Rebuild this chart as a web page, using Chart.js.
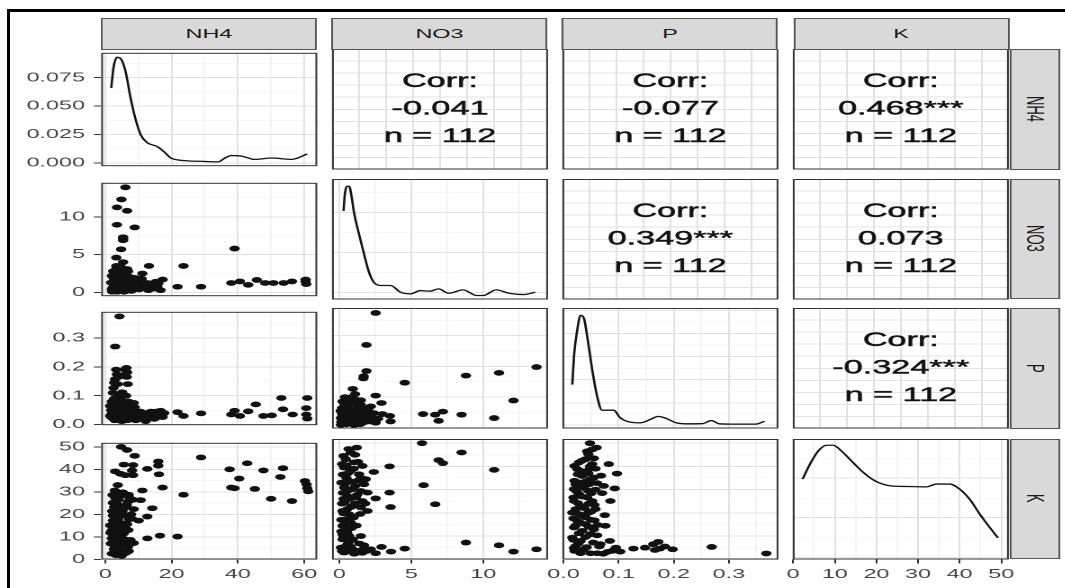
<!DOCTYPE html>
<html>
<head>
<meta charset="utf-8">
<title>NH4 / NO3 / P / K pairs</title>
<script src="https://cdn.jsdelivr.net/npm/chart.js@4.4.1/dist/chart.umd.min.js"></script>
<style>
  html, body { margin: 0; padding: 0; background: #fff; }
  body { width: 1065px; height: 588px; overflow: hidden; position: relative; }
  #frame { position: absolute; left: 7px; top: 9px; width: 1080px; height: 600px;
           border-left: 3px solid #000; border-top: 3px solid #000; }
  /* 元の図は横方向に引き伸ばされているので、全体を scaleX で伸ばす */
  #stage { position: absolute; left: 0; top: 0; width: 592px; height: 588px;
           transform: scaleX(1.8); transform-origin: 0 0; }
  #stage canvas { position: absolute; }
  .strip { position: absolute; box-sizing: border-box; background: #d9d9d9;
           border: 1px solid #555; color: #1a1a1a;
           font: 13px "Liberation Sans", Arial, sans-serif;
           display: flex; align-items: center; justify-content: center; }
  .strip.right span { writing-mode: vertical-rl; }
</style>
</head>
<body>
<div id="frame"></div>
<div id="stage"></div>
<script>
// ---- 変数名・相関 ----
const variables = ['NH4', 'NO3', 'P', 'K'];
const corrCells = [[0, 1], [0, 2], [0, 3], [1, 2], [1, 3], [2, 3]];
const corrValues = ['-0.041', '-0.077', '0.468***', '0.349***', '0.073', '-0.324***'];
const corrN = 112;

// ---- 軸の目盛り ----
const nh4Range = [-1.2, 63.9];
const nh4Ticks = [0, 20, 40, 60];
const nh4Minor = [10, 30, 50];
const nh4Labels = ['0', '20', '40', '60'];

const no3Range = [-0.5, 14.5];
const no3Ticks = [0, 5, 10];
const no3Minor = [2.5, 7.5, 12.5];
const no3Labels = ['0', '5', '10'];

const pRange = [-0.002, 0.39];
const pTicks = [0, 0.1, 0.2, 0.3];
const pMinor = [0.05, 0.15, 0.25, 0.35];
const pLabels = ['0.0', '0.1', '0.2', '0.3'];

const kRange = [-0.1, 51.8];
const kTicks = [0, 10, 20, 30, 40, 50];
const kMinor = [5, 15, 25, 35, 45];
const kLabels = ['0', '10', '20', '30', '40', '50'];

const densRange = [-0.003, 0.097];
const densTicks = [0, 0.025, 0.05, 0.075];
const densMinor = [0.0125, 0.0375, 0.0625, 0.0875];
const densLabels = ['0.000', '0.025', '0.050', '0.075'];

// 対角パネル (NO3, P, K) の密度は相対値 0..1 で読んだ
const relRange = [0, 1];
const no3DensGrid = [0.06, 0.226, 0.392, 0.558, 0.724, 0.89];
const pDensGrid = [0.027, 0.124, 0.212, 0.308, 0.405, 0.5, 0.598, 0.694, 0.79, 0.887, 0.98];
const kDensGrid = [0.017, 0.182, 0.347, 0.512, 0.677, 0.842];

const corrRangeX = [0, 8];
const corrGridX = [1, 2, 3, 4, 5, 6, 7];
const corrRangeY = [0, 10];
const corrGridY = [1, 2, 3, 4, 5, 6, 7, 8, 9];

// ---- 密度曲線 ----
const nh4Density = [[1.83, 0.066], [2.5, 0.0837], [3.55, 0.093], [4.6, 0.092], [6.1, 0.081], [7.6, 0.058],
  [9.1, 0.039], [10.7, 0.0247], [12.7, 0.0177], [15.7, 0.0143], [17.7, 0.0098], [19.8, 0.0042],
  [22, 0.0025], [24.9, 0.0017], [30, 0.0012], [34, 0.0008], [36, 0.004], [38, 0.0064], [41.1, 0.0059],
  [45.1, 0.003], [50.2, 0.0042], [56.3, 0.003], [60.9, 0.0078]];
const no3Density = [[0.3, 0.735], [0.39, 0.873], [0.53, 0.94], [0.69, 0.94], [0.85, 0.86], [1.03, 0.72],
  [1.38, 0.54], [1.72, 0.378], [2.07, 0.226], [2.4, 0.143], [2.87, 0.116], [3.57, 0.116], [4.26, 0.06],
  [4.94, 0.047], [5.63, 0.074], [6.3, 0.069], [6.9, 0.088], [7.6, 0.052], [8.6, 0.08], [9.55, 0.033],
  [10, 0.033], [10.9, 0.08], [11.8, 0.052], [12.8, 0.041], [13.6, 0.06]];
const pDensity = [[0.016, 0.364], [0.019, 0.6], [0.025, 0.82], [0.031, 0.94], [0.037, 0.915], [0.044, 0.735],
  [0.052, 0.49], [0.061, 0.267], [0.07, 0.152], [0.091, 0.152], [0.103, 0.088], [0.115, 0.06],
  [0.139, 0.047], [0.157, 0.074], [0.172, 0.1], [0.184, 0.088], [0.205, 0.047], [0.229, 0.039],
  [0.253, 0.041], [0.268, 0.066], [0.283, 0.039], [0.313, 0.036], [0.348, 0.036], [0.365, 0.06]];
const kDensity = [[2.25, 0.667], [4, 0.79], [6, 0.9], [8, 0.948], [9.6, 0.948], [11.6, 0.9], [14, 0.818],
  [16.4, 0.736], [18.4, 0.68], [20.4, 0.64], [23.6, 0.61], [27.2, 0.606], [32, 0.603], [34.4, 0.626],
  [37.6, 0.626], [40, 0.584], [42.4, 0.5], [44.8, 0.378], [47.2, 0.267], [49.2, 0.18]];

// ---- 散布図 (重なって見えない点は塊の範囲から推定) ----
const nh4No3 = [[6.1, 13.9], [4.9, 12.3], [3.55, 11.25], [6.6, 10.8], [3.55, 8.95], [8.9, 8.6], [5.4, 7.3],
  [5.4, 6.9], [5.4, 7.1], [4.8, 5.7], [3.35, 4.6], [3.35, 3.5], [6.6, 3.1], [13.2, 3.5], [23.6, 3.5],
  [11.2, 2.5], [9.1, 1.9], [17.3, 1.7], [21.8, 0.75], [28.9, 0.75], [39, 5.8], [38, 1.25], [40.6, 1.45],
  [43.1, 1.0], [45.7, 1.65], [48.2, 1.25], [50.7, 1.25], [53.8, 1.25], [56.3, 1.45], [60.4, 1.45],
  [60.6, 1.1], [60.4, 1.7], [2.0, 0.4], [3.0, 0.8], [4.1, 1.25], [2.5, 1.9], [3.6, 2.3], [4.6, 2.7],
  [5.6, 2.1], [6.1, 0.8], [7.1, 0.4], [8.1, 1.0], [9.6, 0.6], [11.7, 0.6], [13.7, 0.8], [15.7, 0.8],
  [16.7, 0.3], [4.6, 0.2], [3.0, 0.2], [7.6, 1.7], [5.1, 1.45], [2.5, 1.25], [4.1, 1.9], [5.6, 3.1],
  [6.6, 1.9], [10.7, 1.0], [12.7, 1.25], [15.2, 1.4], [3.8, 0.5], [5.0, 0.6], [6.0, 1.2], [2.8, 1.6],
  [7.5, 0.9], [4.4, 1.6], [2.2, 0.6], [2.6, 1.0], [3.2, 1.4], [3.9, 0.9], [4.3, 0.4], [4.8, 1.1],
  [5.3, 0.5], [5.8, 1.6], [6.3, 2.4], [6.8, 1.3], [7.3, 0.7], [7.8, 2.0], [8.5, 1.4], [9.3, 0.9],
  [2.0, 2.2], [2.4, 2.8], [3.1, 3.0], [3.7, 1.8], [4.2, 2.5], [4.9, 2.0], [5.2, 0.9], [5.9, 0.3],
  [6.4, 0.6], [6.9, 2.8], [7.9, 0.2], [8.8, 0.5], [10.2, 0.4], [12.2, 0.9], [14.5, 0.5], [3.4, 0.5],
  [2.9, 1.1], [4.7, 3.4], [5.4, 4.0], [1.8, 1.3], [2.1, 0.1], [3.6, 0.1], [5.7, 0.1], [9.8, 1.5],
  [11.0, 1.8], [13.0, 0.3], [16.0, 1.2]];
const nh4P = [[4.3, 0.374], [3.0, 0.27], [6.4, 0.196], [6.6, 0.181], [3.55, 0.174], [3.0, 0.157],
  [2.5, 0.127], [4.0, 0.103], [3.0, 0.086], [8.6, 0.075], [1.5, 0.065], [2.0, 0.037], [3.5, 0.026],
  [5.1, 0.048], [6.6, 0.043], [8.1, 0.053], [9.6, 0.037], [11.2, 0.032], [12.7, 0.021], [14.2, 0.037],
  [15.7, 0.026], [16.7, 0.048], [17.3, 0.026], [2.5, 0.02], [4.6, 0.021], [6.1, 0.026], [1.5, 0.03],
  [5.1, 0.07], [7.6, 0.032], [21.8, 0.043], [23.6, 0.03], [28.9, 0.039], [38, 0.035], [39, 0.048],
  [40.6, 0.03], [43.1, 0.046], [45.4, 0.07], [47.7, 0.03], [50.2, 0.032], [53.1, 0.092], [53.6, 0.053],
  [56.5, 0.035], [60.9, 0.092], [60.6, 0.057], [60.6, 0.035], [60.9, 0.021], [2.8, 0.05], [4.0, 0.06],
  [5.8, 0.035], [7.0, 0.055], [3.3, 0.04], [9.0, 0.045], [2.2, 0.045], [2.6, 0.03], [3.1, 0.055],
  [3.6, 0.035], [4.2, 0.045], [4.7, 0.03], [5.3, 0.055], [5.7, 0.02], [6.2, 0.06], [6.8, 0.035],
  [7.3, 0.045], [7.8, 0.02], [8.4, 0.035], [8.9, 0.06], [10.0, 0.025], [10.6, 0.045], [11.8, 0.04],
  [13.2, 0.03], [14.8, 0.02], [16.2, 0.035], [2.0, 0.08], [3.4, 0.075], [4.5, 0.09], [5.5, 0.08],
  [6.3, 0.1], [7.0, 0.08], [2.3, 0.11], [3.8, 0.14], [5.9, 0.17], [6.0, 0.19], [1.8, 0.05], [2.9, 0.015],
  [4.1, 0.015], [5.0, 0.012], [6.6, 0.015], [9.2, 0.015], [12.2, 0.012], [15.2, 0.045], [17.8, 0.04],
  [3.7, 0.062], [4.9, 0.065], [8.0, 0.07], [2.7, 0.09], [3.2, 0.022], [5.4, 0.04], [7.6, 0.05],
  [9.7, 0.03], [11.4, 0.02], [13.8, 0.045], [6.9, 0.025], [4.4, 0.052], [3.9, 0.028], [2.4, 0.062],
  [5.1, 0.112], [6.8, 0.14], [3.3, 0.19], [4.0, 0.165], [6.5, 0.165], [2.7, 0.145], [1.9, 0.025]];
const nh4K = [[4.8, 50], [6.6, 48.6], [8.9, 46], [28.9, 45.3], [16, 43.5], [16, 41.6], [5.6, 42.1],
  [8.4, 41.9], [3.0, 39.1], [4.6, 38], [6.1, 37.4], [8.1, 39.5], [8.4, 37.4], [12.7, 40.2], [16.2, 37.8],
  [37.5, 40], [42.8, 42.7], [47.7, 39.5], [53.6, 40.5], [40.4, 35.9], [52.8, 36.6], [38, 31.9], [39, 31.6],
  [45.1, 31.3], [60.2, 34.8], [60.7, 33.3], [60.9, 31.6], [61.2, 30.2], [50, 26.9], [56.3, 25.9],
  [23.6, 28.7], [17.3, 31.9], [11.2, 30.6], [10.7, 26.3], [14.2, 22.7], [12.7, 19], [3.55, 29.4],
  [3.0, 27.3], [7.1, 28.7], [8.4, 26.5], [2.3, 25.1], [5.1, 23.7], [8.6, 22.3], [3.55, 20.8], [6.1, 19.4],
  [8.1, 18], [10.1, 17.2], [2.3, 17.2], [1.5, 15.1], [4.0, 14.4], [3.0, 12.2], [5.6, 11.5], [2.0, 9.3],
  [4.6, 8.6], [8.6, 7.2], [12.7, 9.3], [16.5, 10.5], [21.8, 10.1], [2.5, 6.5], [4.0, 5.0], [5.6, 3.6],
  [3.0, 3.6], [7.1, 3.6], [4.6, 2.2], [2.0, 12.9], [2.3, 19.4], [5.0, 16], [6.5, 24], [3.8, 33],
  [7.0, 13], [5.5, 6.5], [3.2, 22.5], [2.0, 2.5], [2.6, 4.5], [3.2, 5.8], [3.6, 7.5], [4.2, 9.8],
  [4.9, 10.8], [5.4, 12.6], [6.0, 14.2], [6.6, 15.6], [7.2, 17.8], [7.8, 20], [2.4, 10.5], [2.8, 13.6],
  [3.4, 15.8], [3.9, 17.9], [4.4, 19.8], [5.2, 21.5], [5.8, 22.8], [6.8, 25.5], [7.4, 27.2], [2.1, 21.4],
  [2.7, 23.2], [3.5, 24.8], [4.1, 26.6], [4.7, 28.2], [5.3, 29.8], [2.2, 28.6], [2.9, 30.6], [3.3, 1.8],
  [4.0, 3.0], [5.0, 1.6], [6.2, 2.8], [6.9, 5.6], [7.6, 8.6], [1.7, 7.0], [1.6, 11.8], [2.5, 8.0],
  [3.7, 11.0], [5.7, 9.0], [6.4, 7.0], [4.4, 6.2], [3.0, 16.8]];
const no3P = [[2.53, 0.374], [1.89, 0.27], [1.89, 0.185], [1.68, 0.161], [1.7, 0.168], [4.55, 0.147],
  [0.94, 0.127], [2.53, 0.105], [2.94, 0.081], [8.8, 0.17], [11.1, 0.179], [13.7, 0.198], [12.1, 0.089],
  [8.5, 0.043], [10.76, 0.032], [5.82, 0.045], [6.67, 0.043], [7.2, 0.053], [6.9, 0.023], [3.52, 0.039],
  [3.57, 0.021], [2.41, 0.048], [0.23, 0.086], [0.58, 0.07], [1.15, 0.092], [1.5, 0.075], [0.35, 0.053],
  [0.92, 0.059], [1.72, 0.059], [0.12, 0.032], [0.69, 0.037], [1.27, 0.043], [1.96, 0.032], [0.35, 0.015],
  [0.92, 0.021], [1.61, 0.017], [2.19, 0.021], [2.53, 0.017], [0.12, 0.01], [1.03, 0.01], [0.46, 0.043],
  [1.03, 0.032], [1.5, 0.026], [0.3, 0.025], [0.6, 0.02], [0.8, 0.05], [0.2, 0.065], [1.3, 0.065],
  [0.15, 0.02], [0.25, 0.04], [0.3, 0.06], [0.4, 0.03], [0.45, 0.075], [0.5, 0.012], [0.55, 0.05],
  [0.65, 0.028], [0.7, 0.062], [0.75, 0.045], [0.85, 0.018], [0.9, 0.035], [0.95, 0.08], [1.0, 0.05],
  [1.1, 0.025], [1.2, 0.015], [1.25, 0.06], [1.35, 0.035], [1.4, 0.05], [1.55, 0.04], [1.6, 0.03],
  [1.8, 0.045], [1.85, 0.02], [2.0, 0.06], [2.3, 0.035], [0.2, 0.045], [0.35, 0.08], [0.6, 0.09],
  [0.85, 0.1], [1.1, 0.11], [0.4, 0.1], [0.7, 0.015], [0.1, 0.055], [0.2, 0.012], [0.5, 0.038],
  [0.75, 0.025], [1.3, 0.022], [1.45, 0.012], [1.65, 0.065], [2.1, 0.028], [2.7, 0.03], [3.0, 0.045],
  [0.95, 0.045], [0.55, 0.058], [0.3, 0.032], [1.15, 0.04], [1.9, 0.05], [0.65, 0.075], [1.5, 0.09],
  [2.2, 0.07]];
const no3K = [[5.75, 50], [1.22, 48.1], [8.5, 46], [6.9, 42.7], [7.2, 41.4], [3.5, 40], [2.4, 37.6],
  [10.76, 38.5], [5.86, 31.9], [3.5, 28.7], [2.53, 26.2], [3.57, 22.5], [6.67, 23.7], [1.96, 20.8],
  [8.8, 7.2], [11.1, 6.0], [12.1, 3.3], [13.7, 4.3], [4.55, 4.6], [3.6, 3.3], [2.94, 5.3], [2.53, 2.6],
  [1.72, 6.0], [1.72, 4.6], [0.8, 46], [0.46, 43.1], [1.03, 41.7], [1.61, 40.2], [0.35, 39.5], [0.8, 38.1],
  [1.38, 36.6], [1.84, 34.5], [1.27, 33.8], [1.72, 32.3], [0.35, 30.9], [0.92, 30.2], [1.5, 29.4],
  [1.96, 28.7], [0.58, 27.3], [1.15, 26.6], [1.61, 25.1], [0.35, 24.4], [0.92, 23], [1.5, 22.3],
  [0.23, 20.8], [0.69, 19.4], [0.46, 17.2], [0.8, 15.8], [0.23, 14.4], [0.58, 12.9], [0.23, 10.8],
  [0.69, 10.1], [0.23, 8.6], [0.58, 6.5], [0.12, 5.0], [0.92, 4.3], [0.35, 2.9], [1.27, 3.6], [2.19, 4.3],
  [0.5, 35], [1.0, 18], [0.3, 26], [0.6, 3.5], [0.2, 3.5], [0.45, 5.6], [0.7, 7.6], [0.3, 9.6],
  [0.55, 11.6], [0.85, 13.4], [0.4, 15.2], [0.65, 16.6], [0.95, 18.2], [0.3, 19.8], [0.55, 21.6],
  [0.8, 22.5], [1.1, 24], [0.45, 25.4], [0.7, 26], [1.25, 27.8], [0.25, 28.6], [0.6, 29.6], [1.1, 31.5],
  [0.4, 32.5], [0.8, 33.5], [1.5, 35], [0.25, 36.5], [0.6, 37], [1.0, 39], [0.5, 40.5], [1.3, 42],
  [0.3, 44.5], [1.1, 45], [0.65, 47.5], [1.45, 19.5], [1.8, 24], [1.2, 14.5], [1.5, 10], [0.95, 8.5],
  [1.4, 6.8], [0.8, 5.4], [1.05, 2.4], [1.6, 2.8], [1.9, 3.6], [0.15, 12], [0.15, 17], [0.2, 24],
  [0.15, 33], [0.2, 41]];
const pK = [[0.048, 50], [0.06, 48.1], [0.045, 45.3], [0.082, 41], [0.097, 36.9], [0.093, 30.5],
  [0.085, 25.1], [0.073, 31.6], [0.061, 32.8], [0.076, 14.4], [0.084, 7.9], [0.103, 3.3], [0.127, 4.6],
  [0.148, 5.0], [0.163, 6.5], [0.172, 7.5], [0.175, 4.6], [0.184, 5.5], [0.198, 4.3], [0.166, 4.0],
  [0.269, 5.3], [0.368, 2.5], [0.088, 3.6], [0.067, 6.5], [0.061, 10.3], [0.040, 43.1], [0.028, 41.7],
  [0.052, 41], [0.025, 38.8], [0.043, 38.1], [0.034, 35.9], [0.049, 34.5], [0.022, 32.3], [0.037, 30.9],
  [0.019, 30.2], [0.028, 28], [0.043, 26.6], [0.052, 25.1], [0.019, 25.1], [0.031, 23], [0.058, 21.6],
  [0.016, 20.1], [0.034, 18.7], [0.025, 16.5], [0.040, 15.1], [0.019, 13.7], [0.034, 12.2], [0.049, 10.8],
  [0.016, 9.3], [0.031, 7.9], [0.022, 5.7], [0.037, 4.3], [0.031, 2.6], [0.049, 2.6], [0.061, 2.6],
  [0.019, 4.8], [0.045, 20], [0.03, 33], [0.05, 17], [0.02, 3.6], [0.027, 6.8], [0.042, 5.2],
  [0.054, 7.2], [0.018, 8.4], [0.04, 9.6], [0.028, 11.2], [0.055, 12.9], [0.022, 14.5], [0.046, 14],
  [0.03, 15.8], [0.056, 16.8], [0.018, 17.6], [0.04, 18], [0.028, 19.5], [0.05, 20.5], [0.022, 21.6],
  [0.038, 22], [0.026, 24.2], [0.046, 24], [0.056, 23.4], [0.018, 26.6], [0.034, 27], [0.05, 28.4],
  [0.024, 29.2], [0.044, 29.6], [0.058, 30], [0.03, 31.5], [0.047, 32.4], [0.02, 33.8], [0.04, 33.5],
  [0.055, 35.2], [0.026, 36.6], [0.045, 37], [0.032, 38], [0.058, 39], [0.02, 40.2], [0.048, 40],
  [0.033, 42.4], [0.055, 43.5], [0.043, 46.5], [0.052, 47.3], [0.07, 28.5], [0.068, 36], [0.075, 19],
  [0.062, 14.8], [0.065, 5.5], [0.08, 3.2], [0.095, 5.0], [0.072, 2.4]];

// ---- レイアウト (元画像の px) ----
const S = 1.8;
const colLeft = [101, 331.5, 562, 793];
const rowTop = [49, 178.5, 308.3, 438.5];
const PW = 216, PH = 120.5;
const AXW = 95, AXH = 28;
const MH = 26, MV = 9;

Chart.defaults.font.family = '"Liberation Sans", Arial, sans-serif';

const stage = document.getElementById('stage');

const panelBorder = {
  id: 'panelBorder',
  afterDatasetsDraw(chart) {
    const { ctx, chartArea: a } = chart;
    ctx.save();
    ctx.strokeStyle = '#333';
    ctx.lineWidth = 1;
    ctx.strokeRect(a.left + 0.5, a.top + 0.5, a.width - 1, a.height - 1);
    ctx.restore();
  }
};

const corrText = {
  id: 'corrText',
  afterDatasetsDraw(chart, args, opts) {
    if (!opts.lines) return;
    const { ctx, scales: { x, y } } = chart;
    const cx = x.getPixelForValue((x.min + x.max) / 2);
    const cy = y.getPixelForValue((y.min + y.max) / 2);
    ctx.save();
    ctx.font = '19px "Liberation Sans", Arial, sans-serif';
    ctx.fillStyle = '#111';
    ctx.strokeStyle = '#111';
    ctx.lineWidth = 0.45;
    ctx.textAlign = 'center';
    ctx.textBaseline = 'middle';
    opts.lines.forEach((t, i) => {
      ctx.fillText(t, cx, cy + (i - 1) * 27.5);
      ctx.strokeText(t, cx, cy + (i - 1) * 27.5);
    });
    ctx.restore();
  }
};

function axis(spec, show, isX) {
  const [range, majors, minors, labels] = spec;
  const all = [...majors, ...minors].sort((a, b) => a - b);
  const isMajor = v => majors.some(m => Math.abs(m - v) < 1e-9);
  return {
    type: 'linear',
    min: range[0],
    max: range[1],
    afterBuildTicks: ax => { ax.ticks = all.map(v => ({ value: v })); },
    afterFit: ax => {
      if (isX) ax.height = show ? AXH : 0;
      else ax.width = show ? AXW / S : 0;
    },
    ticks: {
      display: show,
      autoSkip: false,
      maxRotation: 0,
      padding: isX ? 3 : 5,
      color: '#444',
      font: { size: 13 },
      callback: v => {
        const i = majors.findIndex(m => Math.abs(m - v) < 1e-9);
        return i < 0 || !labels ? '' : labels[i];
      }
    },
    grid: {
      drawTicks: show,
      tickLength: 4,
      color: c => (c.tick && isMajor(c.tick.value)) ? '#e2e2e2' : '#efefef',
      lineWidth: c => (c.tick && isMajor(c.tick.value)) ? 1 : 0.6,
      tickColor: c => (c.tick && isMajor(c.tick.value)) ? '#333' : 'rgba(0,0,0,0)',
      tickWidth: 1
    },
    border: { display: false }
  };
}

const pts = arr => arr.map(([x, y]) => ({ x, y }));

function scatterSet(arr) {
  return { data: pts(arr), pointRadius: 2.9, pointBackgroundColor: '#111', pointBorderWidth: 0 };
}
function densitySet(arr) {
  return { data: pts(arr), showLine: true, pointRadius: 0, borderColor: '#111', borderWidth: 1.3,
           cubicInterpolationMode: 'monotone' };
}

function panel(r, c, xSpec, ySpec, datasets, lines) {
  const extraL = c === 0 ? AXW : 0;
  const extraB = r === 3 ? AXH : 0;
  const x0 = colLeft[c] - extraL - MH;
  const y0 = rowTop[r] - MV;
  const wCss = Math.ceil((PW + extraL + 2 * MH) / S);
  const hCss = Math.ceil(PH + extraB + 2 * MV);
  const cv = document.createElement('canvas');
  cv.width = wCss;
  cv.height = hCss;
  cv.style.left = (x0 / S) + 'px';
  cv.style.top = y0 + 'px';
  stage.appendChild(cv);
  const padL = MH / S;
  const padR = wCss - padL - (extraL + PW) / S;
  const padB = hCss - MV - PH - extraB;
  new Chart(cv, {
    type: 'scatter',
    data: { datasets },
    options: {
      responsive: false,
      animation: false,
      devicePixelRatio: 2,
      events: [],
      layout: { autoPadding: false, padding: { left: padL, right: padR, top: MV, bottom: padB } },
      plugins: { legend: { display: false }, tooltip: { enabled: false }, corrText: { lines: lines || null } },
      scales: { x: axis(xSpec, r === 3, true), y: axis(ySpec, c === 0, false) }
    },
    plugins: [panelBorder, corrText]
  });
}

// 変数ごとの軸
const varAxis = [
  [nh4Range, nh4Ticks, nh4Minor, nh4Labels],
  [no3Range, no3Ticks, no3Minor, no3Labels],
  [pRange, pTicks, pMinor, pLabels],
  [kRange, kTicks, kMinor, kLabels]
];
const diagAxis = [
  [densRange, densTicks, densMinor, densLabels],
  [relRange, no3DensGrid.filter((v, i) => i % 2 === 0), no3DensGrid.filter((v, i) => i % 2 === 1), null],
  [relRange, pDensGrid.filter((v, i) => i % 2 === 0), pDensGrid.filter((v, i) => i % 2 === 1), null],
  [relRange, kDensGrid.filter((v, i) => i % 2 === 0), kDensGrid.filter((v, i) => i % 2 === 1), null]
];
const corrAxisX = [corrRangeX, corrGridX, [], null];
const corrAxisY = [corrRangeY, corrGridY, [], null];

// 対角: 密度
const densities = [nh4Density, no3Density, pDensity, kDensity];
densities.forEach((d, i) => panel(i, i, varAxis[i], diagAxis[i], [densitySet(d)]));

// 下三角: 散布図
const scatters = [[1, 0, nh4No3], [2, 0, nh4P], [3, 0, nh4K], [2, 1, no3P], [3, 1, no3K], [3, 2, pK]];
scatters.forEach(([r, c, d]) => panel(r, c, varAxis[c], varAxis[r], [scatterSet(d)]));

// 上三角: 相関
corrCells.forEach(([r, c], i) =>
  panel(r, c, corrAxisX, corrAxisY, [], ['Corr:', corrValues[i], 'n = ' + corrN]));

// ストリップ
variables.forEach((name, i) => {
  const top = document.createElement('div');
  top.className = 'strip';
  top.style.left = (colLeft[i] / S) + 'px';
  top.style.top = '18px';
  top.style.width = (PW / S) + 'px';
  top.style.height = '31.5px';
  top.textContent = name;
  stage.appendChild(top);

  const side = document.createElement('div');
  side.className = 'strip right';
  side.style.left = ((colLeft[3] + PW) / S) + 'px';
  side.style.top = rowTop[i] + 'px';
  side.style.width = (52 / S) + 'px';
  side.style.height = PH + 'px';
  side.innerHTML = '<span>' + name + '</span>';
  stage.appendChild(side);
});
</script>
</body>
</html>
